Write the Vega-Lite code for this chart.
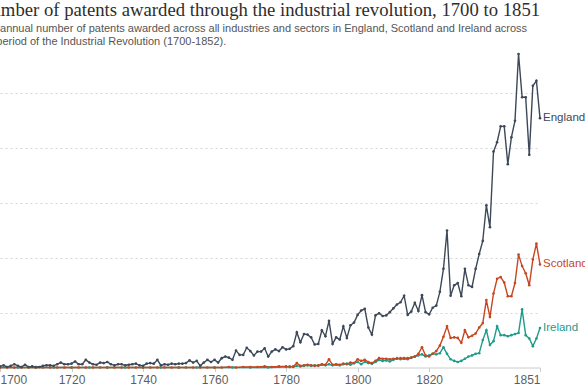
{
  "$schema": "https://vega.github.io/schema/vega-lite/v6.json",
  "autosize": {"type": "none"},
  "padding": {"left": 0, "top": 54, "right": 45, "bottom": 20},
  "width": 540,
  "height": 313.5,
  "background": "white",
  "config": {"view": {"stroke": null}},
  "title": {
    "text": "Number of patents awarded through the industrial revolution, 1700 to 1851",
    "subtitle": ["The annual number of patents awarded across all industries and sectors in England, Scotland and Ireland across", "the period of the Industrial Revolution (1700-1852)."],
    "anchor": "start",
    "frame": "group",
    "dx": -22,
    "offset": 4,
    "font": "Liberation Serif",
    "fontSize": 18.7,
    "fontWeight": "normal",
    "color": "#2d2d2d",
    "subtitleFont": "Liberation Sans",
    "subtitleFontSize": 11,
    "subtitleColor": "#555555",
    "subtitleLineHeight": 13,
    "subtitlePadding": 4
  },
  "data": {"values": [
    {"year":1700,"country":"Ireland","patents":0},{"year":1705,"country":"Ireland","patents":0},{"year":1710,"country":"Ireland","patents":0},{"year":1715,"country":"Ireland","patents":0},{"year":1720,"country":"Ireland","patents":0},{"year":1725,"country":"Ireland","patents":0},{"year":1730,"country":"Ireland","patents":0},{"year":1735,"country":"Ireland","patents":0},{"year":1740,"country":"Ireland","patents":0},{"year":1745,"country":"Ireland","patents":0},{"year":1750,"country":"Ireland","patents":0},{"year":1755,"country":"Ireland","patents":0},{"year":1760,"country":"Ireland","patents":0},{"year":1765,"country":"Ireland","patents":0},{"year":1770,"country":"Ireland","patents":0},{"year":1775,"country":"Ireland","patents":0},
    {"year":1780,"country":"Ireland","patents":1},{"year":1781,"country":"Ireland","patents":2},{"year":1782,"country":"Ireland","patents":1},{"year":1783,"country":"Ireland","patents":3},{"year":1784,"country":"Ireland","patents":2},{"year":1785,"country":"Ireland","patents":3},{"year":1786,"country":"Ireland","patents":4},{"year":1787,"country":"Ireland","patents":3},{"year":1788,"country":"Ireland","patents":4},{"year":1789,"country":"Ireland","patents":3},
    {"year":1790,"country":"Ireland","patents":5},{"year":1791,"country":"Ireland","patents":4},{"year":1792,"country":"Ireland","patents":6},{"year":1793,"country":"Ireland","patents":4},{"year":1794,"country":"Ireland","patents":5},{"year":1795,"country":"Ireland","patents":4},{"year":1796,"country":"Ireland","patents":6},{"year":1797,"country":"Ireland","patents":7},{"year":1798,"country":"Ireland","patents":5},{"year":1799,"country":"Ireland","patents":8},
    {"year":1800,"country":"Ireland","patents":10},{"year":1801,"country":"Ireland","patents":6},{"year":1802,"country":"Ireland","patents":10},{"year":1803,"country":"Ireland","patents":8},{"year":1804,"country":"Ireland","patents":7},{"year":1805,"country":"Ireland","patents":10},{"year":1806,"country":"Ireland","patents":14},{"year":1807,"country":"Ireland","patents":12},{"year":1808,"country":"Ireland","patents":13},{"year":1809,"country":"Ireland","patents":11},
    {"year":1810,"country":"Ireland","patents":14},{"year":1811,"country":"Ireland","patents":17},{"year":1812,"country":"Ireland","patents":15},{"year":1813,"country":"Ireland","patents":16},{"year":1814,"country":"Ireland","patents":15},{"year":1815,"country":"Ireland","patents":18},{"year":1816,"country":"Ireland","patents":20},{"year":1817,"country":"Ireland","patents":22},{"year":1818,"country":"Ireland","patents":24},{"year":1819,"country":"Ireland","patents":20},
    {"year":1820,"country":"Ireland","patents":22},{"year":1821,"country":"Ireland","patents":25},{"year":1822,"country":"Ireland","patents":24},{"year":1823,"country":"Ireland","patents":26},{"year":1824,"country":"Ireland","patents":37},{"year":1825,"country":"Ireland","patents":25},{"year":1826,"country":"Ireland","patents":15},{"year":1827,"country":"Ireland","patents":12},{"year":1828,"country":"Ireland","patents":10},{"year":1829,"country":"Ireland","patents":12},
    {"year":1830,"country":"Ireland","patents":16},{"year":1831,"country":"Ireland","patents":20},{"year":1832,"country":"Ireland","patents":22},{"year":1833,"country":"Ireland","patents":25},{"year":1834,"country":"Ireland","patents":26},{"year":1835,"country":"Ireland","patents":50},{"year":1836,"country":"Ireland","patents":68},{"year":1837,"country":"Ireland","patents":41},{"year":1838,"country":"Ireland","patents":48},{"year":1839,"country":"Ireland","patents":75},
    {"year":1840,"country":"Ireland","patents":59},{"year":1841,"country":"Ireland","patents":59},{"year":1842,"country":"Ireland","patents":57},{"year":1843,"country":"Ireland","patents":59},{"year":1844,"country":"Ireland","patents":61},{"year":1845,"country":"Ireland","patents":63},{"year":1846,"country":"Ireland","patents":106},{"year":1847,"country":"Ireland","patents":59},{"year":1848,"country":"Ireland","patents":53},{"year":1849,"country":"Ireland","patents":39},{"year":1850,"country":"Ireland","patents":53},{"year":1851,"country":"Ireland","patents":72},

    {"year":1700,"country":"Scotland","patents":0},{"year":1702,"country":"Scotland","patents":0},{"year":1704,"country":"Scotland","patents":0},{"year":1706,"country":"Scotland","patents":0},{"year":1708,"country":"Scotland","patents":0},{"year":1710,"country":"Scotland","patents":0},{"year":1712,"country":"Scotland","patents":0},{"year":1714,"country":"Scotland","patents":0},{"year":1716,"country":"Scotland","patents":0},{"year":1718,"country":"Scotland","patents":0},{"year":1720,"country":"Scotland","patents":0},{"year":1722,"country":"Scotland","patents":0},{"year":1724,"country":"Scotland","patents":0},{"year":1726,"country":"Scotland","patents":0},{"year":1728,"country":"Scotland","patents":0},{"year":1730,"country":"Scotland","patents":0},{"year":1732,"country":"Scotland","patents":0},{"year":1734,"country":"Scotland","patents":0},{"year":1736,"country":"Scotland","patents":0},{"year":1738,"country":"Scotland","patents":0},{"year":1740,"country":"Scotland","patents":0},{"year":1742,"country":"Scotland","patents":0},{"year":1744,"country":"Scotland","patents":0},{"year":1746,"country":"Scotland","patents":0},{"year":1748,"country":"Scotland","patents":0},{"year":1750,"country":"Scotland","patents":0},{"year":1752,"country":"Scotland","patents":0},{"year":1754,"country":"Scotland","patents":0},{"year":1756,"country":"Scotland","patents":0},{"year":1758,"country":"Scotland","patents":0},{"year":1760,"country":"Scotland","patents":0},{"year":1762,"country":"Scotland","patents":0},{"year":1764,"country":"Scotland","patents":1},{"year":1766,"country":"Scotland","patents":0},{"year":1768,"country":"Scotland","patents":1},{"year":1770,"country":"Scotland","patents":1},{"year":1772,"country":"Scotland","patents":1},{"year":1774,"country":"Scotland","patents":2},{"year":1776,"country":"Scotland","patents":1},{"year":1778,"country":"Scotland","patents":2},
    {"year":1780,"country":"Scotland","patents":2},{"year":1781,"country":"Scotland","patents":1},{"year":1782,"country":"Scotland","patents":2},{"year":1783,"country":"Scotland","patents":8},{"year":1784,"country":"Scotland","patents":3},{"year":1785,"country":"Scotland","patents":4},{"year":1786,"country":"Scotland","patents":5},{"year":1787,"country":"Scotland","patents":4},{"year":1788,"country":"Scotland","patents":3},{"year":1789,"country":"Scotland","patents":4},
    {"year":1790,"country":"Scotland","patents":6},{"year":1791,"country":"Scotland","patents":5},{"year":1792,"country":"Scotland","patents":15},{"year":1793,"country":"Scotland","patents":5},{"year":1794,"country":"Scotland","patents":6},{"year":1795,"country":"Scotland","patents":5},{"year":1796,"country":"Scotland","patents":7},{"year":1797,"country":"Scotland","patents":6},{"year":1798,"country":"Scotland","patents":9},{"year":1799,"country":"Scotland","patents":8},
    {"year":1800,"country":"Scotland","patents":15},{"year":1801,"country":"Scotland","patents":12},{"year":1802,"country":"Scotland","patents":14},{"year":1803,"country":"Scotland","patents":10},{"year":1804,"country":"Scotland","patents":8},{"year":1805,"country":"Scotland","patents":12},{"year":1806,"country":"Scotland","patents":17},{"year":1807,"country":"Scotland","patents":16},{"year":1808,"country":"Scotland","patents":16},{"year":1809,"country":"Scotland","patents":15},
    {"year":1810,"country":"Scotland","patents":16},{"year":1811,"country":"Scotland","patents":16},{"year":1812,"country":"Scotland","patents":17},{"year":1813,"country":"Scotland","patents":17},{"year":1814,"country":"Scotland","patents":17},{"year":1815,"country":"Scotland","patents":18},{"year":1816,"country":"Scotland","patents":20},{"year":1817,"country":"Scotland","patents":25},{"year":1818,"country":"Scotland","patents":37},{"year":1819,"country":"Scotland","patents":22},
    {"year":1820,"country":"Scotland","patents":20},{"year":1821,"country":"Scotland","patents":25},{"year":1822,"country":"Scotland","patents":30},{"year":1823,"country":"Scotland","patents":40},{"year":1824,"country":"Scotland","patents":56},{"year":1825,"country":"Scotland","patents":75},{"year":1826,"country":"Scotland","patents":54},{"year":1827,"country":"Scotland","patents":55},{"year":1828,"country":"Scotland","patents":54},{"year":1829,"country":"Scotland","patents":45},
    {"year":1830,"country":"Scotland","patents":68},{"year":1831,"country":"Scotland","patents":55},{"year":1832,"country":"Scotland","patents":58},{"year":1833,"country":"Scotland","patents":62},{"year":1834,"country":"Scotland","patents":73},{"year":1835,"country":"Scotland","patents":81},{"year":1836,"country":"Scotland","patents":123},{"year":1837,"country":"Scotland","patents":92},{"year":1838,"country":"Scotland","patents":135},{"year":1839,"country":"Scotland","patents":162},
    {"year":1840,"country":"Scotland","patents":165},{"year":1841,"country":"Scotland","patents":155},{"year":1842,"country":"Scotland","patents":130},{"year":1843,"country":"Scotland","patents":130},{"year":1844,"country":"Scotland","patents":154},{"year":1845,"country":"Scotland","patents":206},{"year":1846,"country":"Scotland","patents":185},{"year":1847,"country":"Scotland","patents":172},{"year":1848,"country":"Scotland","patents":150},{"year":1849,"country":"Scotland","patents":197},{"year":1850,"country":"Scotland","patents":226},{"year":1851,"country":"Scotland","patents":188},

    {"year":1700,"country":"England","patents":2},{"year":1701,"country":"England","patents":4},{"year":1702,"country":"England","patents":1},{"year":1703,"country":"England","patents":3},{"year":1704,"country":"England","patents":6},{"year":1705,"country":"England","patents":3},{"year":1706,"country":"England","patents":1},{"year":1707,"country":"England","patents":5},{"year":1708,"country":"England","patents":1},{"year":1709,"country":"England","patents":2},
    {"year":1710,"country":"England","patents":1},{"year":1711,"country":"England","patents":1},{"year":1712,"country":"England","patents":3},{"year":1713,"country":"England","patents":4},{"year":1714,"country":"England","patents":4},{"year":1715,"country":"England","patents":3},{"year":1716,"country":"England","patents":6},{"year":1717,"country":"England","patents":9},{"year":1718,"country":"England","patents":6},{"year":1719,"country":"England","patents":6},
    {"year":1720,"country":"England","patents":7},{"year":1721,"country":"England","patents":11},{"year":1722,"country":"England","patents":6},{"year":1723,"country":"England","patents":6},{"year":1724,"country":"England","patents":14},{"year":1725,"country":"England","patents":9},{"year":1726,"country":"England","patents":6},{"year":1727,"country":"England","patents":5},{"year":1728,"country":"England","patents":9},{"year":1729,"country":"England","patents":8},
    {"year":1730,"country":"England","patents":10},{"year":1731,"country":"England","patents":6},{"year":1732,"country":"England","patents":4},{"year":1733,"country":"England","patents":6},{"year":1734,"country":"England","patents":6},{"year":1735,"country":"England","patents":4},{"year":1736,"country":"England","patents":5},{"year":1737,"country":"England","patents":6},{"year":1738,"country":"England","patents":7},{"year":1739,"country":"England","patents":4},
    {"year":1740,"country":"England","patents":3},{"year":1741,"country":"England","patents":7},{"year":1742,"country":"England","patents":8},{"year":1743,"country":"England","patents":7},{"year":1744,"country":"England","patents":14},{"year":1745,"country":"England","patents":4},{"year":1746,"country":"England","patents":6},{"year":1747,"country":"England","patents":5},{"year":1748,"country":"England","patents":7},{"year":1749,"country":"England","patents":6},
    {"year":1750,"country":"England","patents":7},{"year":1751,"country":"England","patents":7},{"year":1752,"country":"England","patents":8},{"year":1753,"country":"England","patents":13},{"year":1754,"country":"England","patents":9},{"year":1755,"country":"England","patents":12},{"year":1756,"country":"England","patents":3},{"year":1757,"country":"England","patents":9},{"year":1758,"country":"England","patents":14},{"year":1759,"country":"England","patents":10},
    {"year":1760,"country":"England","patents":14},{"year":1761,"country":"England","patents":9},{"year":1762,"country":"England","patents":17},{"year":1763,"country":"England","patents":20},{"year":1764,"country":"England","patents":18},{"year":1765,"country":"England","patents":14},{"year":1766,"country":"England","patents":31},{"year":1767,"country":"England","patents":23},{"year":1768,"country":"England","patents":23},{"year":1769,"country":"England","patents":36},
    {"year":1770,"country":"England","patents":30},{"year":1771,"country":"England","patents":22},{"year":1772,"country":"England","patents":29},{"year":1773,"country":"England","patents":29},{"year":1774,"country":"England","patents":35},{"year":1775,"country":"England","patents":20},{"year":1776,"country":"England","patents":29},{"year":1777,"country":"England","patents":33},{"year":1778,"country":"England","patents":30},{"year":1779,"country":"England","patents":37},
    {"year":1780,"country":"England","patents":33},{"year":1781,"country":"England","patents":34},{"year":1782,"country":"England","patents":39},{"year":1783,"country":"England","patents":64},{"year":1784,"country":"England","patents":46},{"year":1785,"country":"England","patents":61},{"year":1786,"country":"England","patents":60},{"year":1787,"country":"England","patents":55},{"year":1788,"country":"England","patents":42},{"year":1789,"country":"England","patents":43},
    {"year":1790,"country":"England","patents":68},{"year":1791,"country":"England","patents":57},{"year":1792,"country":"England","patents":85},{"year":1793,"country":"England","patents":43},{"year":1794,"country":"England","patents":55},{"year":1795,"country":"England","patents":51},{"year":1796,"country":"England","patents":75},{"year":1797,"country":"England","patents":54},{"year":1798,"country":"England","patents":77},{"year":1799,"country":"England","patents":82},
    {"year":1800,"country":"England","patents":96},{"year":1801,"country":"England","patents":104},{"year":1802,"country":"England","patents":107},{"year":1803,"country":"England","patents":73},{"year":1804,"country":"England","patents":60},{"year":1805,"country":"England","patents":95},{"year":1806,"country":"England","patents":99},{"year":1807,"country":"England","patents":94},{"year":1808,"country":"England","patents":95},{"year":1809,"country":"England","patents":101},
    {"year":1810,"country":"England","patents":108},{"year":1811,"country":"England","patents":115},{"year":1812,"country":"England","patents":119},{"year":1813,"country":"England","patents":131},{"year":1814,"country":"England","patents":96},{"year":1815,"country":"England","patents":102},{"year":1816,"country":"England","patents":118},{"year":1817,"country":"England","patents":103},{"year":1818,"country":"England","patents":132},{"year":1819,"country":"England","patents":101},
    {"year":1820,"country":"England","patents":97},{"year":1821,"country":"England","patents":109},{"year":1822,"country":"England","patents":113},{"year":1823,"country":"England","patents":138},{"year":1824,"country":"England","patents":180},{"year":1825,"country":"England","patents":250},{"year":1826,"country":"England","patents":131},{"year":1827,"country":"England","patents":150},{"year":1828,"country":"England","patents":154},{"year":1829,"country":"England","patents":130},
    {"year":1830,"country":"England","patents":180},{"year":1831,"country":"England","patents":150},{"year":1832,"country":"England","patents":147},{"year":1833,"country":"England","patents":180},{"year":1834,"country":"England","patents":207},{"year":1835,"country":"England","patents":231},{"year":1836,"country":"England","patents":296},{"year":1837,"country":"England","patents":256},{"year":1838,"country":"England","patents":394},{"year":1839,"country":"England","patents":411},
    {"year":1840,"country":"England","patents":440},{"year":1841,"country":"England","patents":440},{"year":1842,"country":"England","patents":371},{"year":1843,"country":"England","patents":420},{"year":1844,"country":"England","patents":450},{"year":1845,"country":"England","patents":572},{"year":1846,"country":"England","patents":493},{"year":1847,"country":"England","patents":493},{"year":1848,"country":"England","patents":388},{"year":1849,"country":"England","patents":514},{"year":1850,"country":"England","patents":523},{"year":1851,"country":"England","patents":455}
  ]},
  "encoding": {
    "x": {"field": "year", "type": "quantitative",
      "scale": {"domain": [1700, 1851], "nice": false, "zero": false},
      "axis": {"title": null, "values": [1700, 1720, 1740, 1760, 1780, 1800, 1820, 1851], "format": "d", "labelFlush": true, "grid": false,
        "domainColor": "#cccccc", "tickColor": "#cccccc", "tickSize": 4, "labelColor": "#5e5e5e", "labelFont": "Liberation Sans", "labelFontSize": 12, "labelPadding": 3}},
    "y": {"field": "patents", "type": "quantitative",
      "scale": {"domain": [0, 572], "nice": false},
      "axis": {"title": null, "labels": false, "ticks": false, "domain": false, "values": [100, 200, 300, 400, 500],
        "grid": true, "gridDash": [2, 3], "gridColor": "#d4d4d4", "gridWidth": 1}},
    "color": {"field": "country", "type": "nominal", "legend": null,
      "scale": {"domain": ["England", "Scotland", "Ireland"], "range": ["#3d4858", "#c8461f", "#1f9b8a"]}}
  },
  "layer": [
    {"mark": {"type": "line", "strokeWidth": 1.4}},
    {"mark": {"type": "circle", "size": 7, "opacity": 1}},
    {"transform": [{"filter": "datum.year === 1851"}],
     "mark": {"type": "text", "align": "left", "baseline": "middle", "dx": 3, "font": "Liberation Sans", "fontSize": 11.5},
     "encoding": {"text": {"field": "country"},
       "color": {"field": "country", "type": "nominal", "legend": null, "scale": {"domain": ["England", "Scotland", "Ireland"], "range": ["#4a5666", "#b9532c", "#2a9a8a"]}}}}
  ]
}
